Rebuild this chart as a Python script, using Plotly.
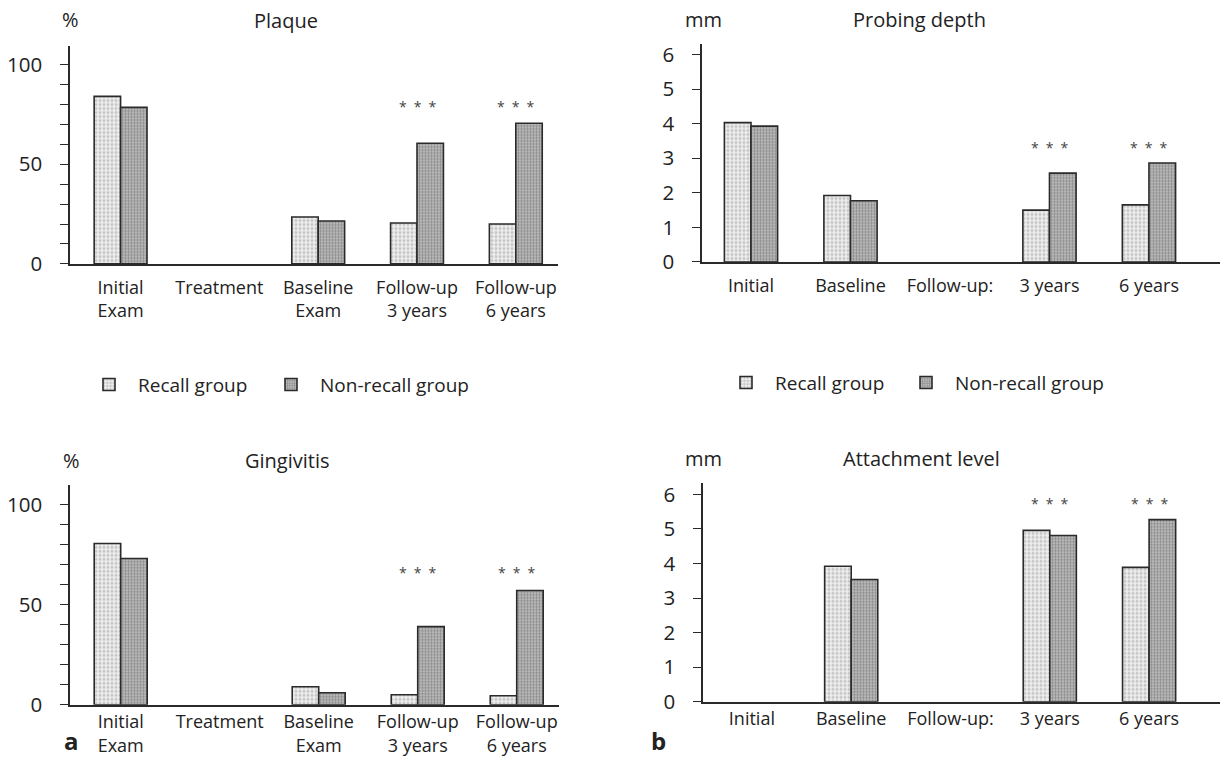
import plotly.graph_objects as go

W, H = 1220, 764

# ---------------- data ----------------
cats_a = ["Initial<br>Exam", "Treatment", "Baseline<br>Exam", "Follow-up<br>3 years", "Follow-up<br>6 years"]
cats_b = ["Initial", "Baseline", "Follow-up:", "3 years", "6 years"]

plaque_recall = [84, None, 23.5, 20.5, 20]
plaque_nonrecall = [78.5, None, 21.5, 60.5, 70.5]

gingivitis_recall = [80.5, None, 9, 5, 4.5]
gingivitis_nonrecall = [73, None, 6, 39, 57]

probing_recall = [4.03, 1.92, None, 1.5, 1.65]
probing_nonrecall = [3.93, 1.77, None, 2.57, 2.86]

attachment_recall = [None, 3.92, None, 4.96, 3.89]
attachment_nonrecall = [None, 3.54, None, 4.81, 5.27]

# significance markers (category index, level)
sig_cats = [3, 4]
sig_level = {"plaque": 79, "gingivitis": 66, "probing": 3.3, "attachment": 5.75}

series_names = ["Recall group", "Non-recall group"]

# ---------------- style ----------------
FONT = "Open Sans"
TXT = "#222222"
LINE = "#2a2a2a"
pat_recall = dict(shape=".", bgcolor="#efefef", fgcolor="#c4c4c4", size=4, solidity=0.45, fillmode="replace")
pat_non = dict(shape=".", bgcolor="#c6c6c6", fgcolor="#8a8a8a", size=3, solidity=0.5, fillmode="replace")

fig = go.Figure()

# each legend entry sits in its own legend so that its position matches the reference
panels = [
    ("plaque", "x", "y", cats_a, plaque_recall, plaque_nonrecall, ("legend", "legend2")),
    ("probing", "x2", "y2", cats_b, probing_recall, probing_nonrecall, ("legend3", "legend4")),
    ("gingivitis", "x3", "y3", cats_a, gingivitis_recall, gingivitis_nonrecall, None),
    ("attachment", "x4", "y4", cats_b, attachment_recall, attachment_nonrecall, None),
]

for key, xa, ya, cats, rec, non, legs in panels:
    for i, (name, vals, pat) in enumerate([(series_names[0], rec, pat_recall),
                                           (series_names[1], non, pat_non)]):
        fig.add_trace(go.Bar(
            x=cats, y=vals, name=name, xaxis=xa, yaxis=ya,
            marker=dict(color=pat["bgcolor"], pattern=pat, line=dict(color=LINE, width=1.6)),
            showlegend=legs is not None, legend=legs[i] if legs else "legend",
            hoverinfo="skip",
        ))
    for ci in sig_cats:
        fig.add_annotation(x=cats[ci], y=sig_level[key], xref=xa, yref=ya,
                           text="*\u2002*\u2002*", showarrow=False,
                           font=dict(family=FONT, size=14, color="#444"))


# vertical placement: target picture rows are mapped to figure rows
# (the photographed page comes out slightly squeezed vertically)
def fy(p):
    return (p - 5.4) / 0.979


def px_x(p):
    return min(1.0, max(0.0, p / W))


def px_y(p):
    return 1 - fy(p) / H


def dom_y(bottom, top):
    return [max(0.0, px_y(bottom)), min(1.0, px_y(top))]


axis_common = dict(showgrid=False, zeroline=False, showline=True, linecolor=LINE)
xfont = dict(family=FONT, size=18, color=TXT)

xa_left = dict(**axis_common, type="category", range=[-0.512, 4.427], linewidth=2, ticks="",
               tickfont=xfont)
xa_right = dict(**axis_common, type="category", range=[-0.4925, 4.714], linewidth=2, ticks="",
                tickfont=xfont)

ytick = dict(ticks="outside", ticklen=8, tickwidth=1.3, tickcolor=LINE, ticklabelstandoff=14,
             tickfont=dict(family=FONT, size=20.5, color=TXT))
ya_pct = dict(**axis_common, **ytick, linewidth=1.5, tickvals=[0, 50, 100],
              minor=dict(dtick=10, ticks="outside", ticklen=8, tickwidth=1.3, tickcolor=LINE))
ya_mm = dict(**axis_common, **ytick, linewidth=1.5, tickvals=[0, 1, 2, 3, 4, 5, 6])

legend_common = dict(orientation="h", xanchor="left", yanchor="middle", itemwidth=48,
                     font=dict(family=FONT, size=19, color=TXT), bgcolor="rgba(0,0,0,0)")

fig.update_layout(
    width=W, height=H, margin=dict(l=0, r=0, t=0, b=0),
    paper_bgcolor="white", plot_bgcolor="rgba(0,0,0,0)",
    barmode="group", bargap=0.465, bargroupgap=0,
    font=dict(family=FONT, color=TXT),
    xaxis=dict(xa_left, domain=[px_x(70), px_x(558)], anchor="y", ticklabelstandoff=6),
    yaxis=dict(ya_pct, domain=dom_y(265, 47), range=[0, 109], anchor="x"),
    xaxis2=dict(xa_right, domain=[px_x(702), 1.0], anchor="y2", ticklabelstandoff=6),
    yaxis2=dict(ya_mm, domain=dom_y(263, 45), range=[0, 6.29], anchor="x2"),
    xaxis3=dict(xa_left, domain=[px_x(70), px_x(559)], anchor="y3", ticklabelstandoff=0),
    yaxis3=dict(ya_pct, domain=dom_y(707, 487), range=[0, 109.5], anchor="x3"),
    xaxis4=dict(xa_right, domain=[px_x(703), 1.0], anchor="y4", ticklabelstandoff=0),
    yaxis4=dict(ya_mm, domain=dom_y(704, 485), range=[0, 6.32], anchor="x4"),
    legend=dict(legend_common, x=px_x(80), y=px_y(386)),
    legend2=dict(legend_common, x=px_x(262), y=px_y(386)),
    legend3=dict(legend_common, x=px_x(717), y=px_y(384)),
    legend4=dict(legend_common, x=px_x(897), y=px_y(384)),
)

labels = [
    ("Plaque", 286, 21, 20),
    ("%", 70, 20, 20),
    ("Probing depth", 920, 20, 20),
    ("mm", 703, 20, 20),
    ("Gingivitis", 287, 462, 20),
    ("%", 71, 462, 20),
    ("Attachment level", 921, 460, 20),
    ("mm", 703, 460, 20),
]
for t, x, y, s in labels:
    fig.add_annotation(text=t, x=px_x(x), y=px_y(y), xref="paper", yref="paper",
                       showarrow=False, xanchor="center", yanchor="middle",
                       font=dict(family=FONT, size=s, color=TXT))
# panel letters: text box centre placed so that the baseline sits just inside the bottom edge
for t, x in [("a", 71), ("b", 659)]:
    fig.add_annotation(text="<b>%s</b>" % t, x=px_x(x), y=1 - 753.5 / H, xref="paper", yref="paper",
                       showarrow=False, xanchor="center", yanchor="middle",
                       font=dict(family=FONT, size=24, color=TXT))

# remove the browser's default page margin so the 1220x764 figure fills the window exactly
fig.write_html("out.html", config={"displayModeBar": False},
               post_script="document.body.style.margin='0';document.body.style.overflow='hidden';")
